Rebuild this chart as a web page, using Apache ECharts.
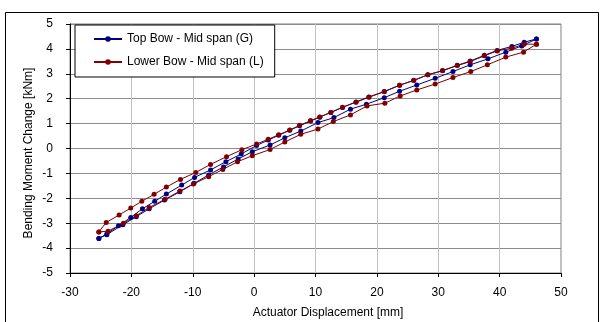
<!DOCTYPE html>
<html>
<head>
<meta charset="utf-8">
<script src="https://cdn.jsdelivr.net/npm/echarts@6/dist/echarts.min.js"></script>
<style>
html,body{margin:0;padding:0;background:#fff;}
#chart{width:600px;height:322px;}
</style>
</head>
<body>
<div id="chart"></div>
<script>
var chartTitle = 'Mid span bending moment change';
var xAxisName = 'Actuator Displacement [mm]';
var yAxisName = 'Bending Moment Change [kNm]';
var seriesNames = ['Top Bow - Mid span (G)', 'Lower Bow - Mid span (L)'];

// Top Bow (blue) - loading branch
var blueLoadX = [-25.3,-24.0,-21.4,-19.2,-17.1,-14.6,-12.1,-9.8,-7.4,-5.0,-2.6,-0.3,2.6,5.0,7.6,10.4,13.0,15.7,18.3,21.2,23.7,26.5,29.5,32.4,35.2,38.1,41.0,43.6,46.0];
var blueLoadY = [-3.61,-3.46,-3.06,-2.74,-2.42,-2.07,-1.74,-1.40,-1.06,-0.74,-0.42,-0.13,0.14,0.43,0.70,1.04,1.24,1.58,1.78,2.04,2.30,2.55,2.82,3.09,3.36,3.60,3.87,4.12,4.40];
// Top Bow (blue) - unloading branch
var blueUnloadX = [46.0,44.0,42.0,39.6,37.5,35.2,33.1,30.7,28.3,26.0,23.7,21.2,18.7,16.6,14.4,12.5,10.7,9.2,7.4,5.8,4.0,2.3,0.4,-2.1,-4.6,-7.1,-9.7,-11.8,-14.3,-16.2,-18.2,-20.1,-22.1,-24.0,-25.3];
var blueUnloadY = [4.40,4.27,4.10,3.94,3.74,3.51,3.34,3.13,2.96,2.74,2.54,2.29,2.07,1.87,1.65,1.45,1.26,1.10,0.91,0.73,0.53,0.34,0.12,-0.22,-0.53,-0.86,-1.16,-1.47,-1.83,-2.12,-2.42,-2.77,-3.10,-3.43,-3.61];

// Lower Bow (red) - loading branch
var redLoadX = [-25.3,-23.8,-21.3,-19.2,-17.1,-14.5,-12.1,-9.9,-7.4,-5.1,-2.7,-0.3,2.6,5.0,7.6,10.4,12.9,15.7,18.4,21.3,23.8,26.5,29.5,32.4,35.3,38.0,41.0,43.9,46.0];
var redLoadY = [-3.35,-3.32,-3.00,-2.70,-2.37,-2.04,-1.71,-1.43,-1.13,-0.84,-0.53,-0.29,-0.04,0.26,0.57,0.78,1.08,1.35,1.71,1.82,2.11,2.35,2.59,2.85,3.09,3.36,3.67,3.87,4.19];
// Lower Bow (red) - unloading branch
var redUnloadX = [46.0,44.0,42.0,39.6,37.5,35.2,33.1,30.7,28.3,26.0,23.7,21.2,18.7,16.6,14.4,12.5,10.7,9.2,7.4,5.8,4.0,2.3,0.4,-2.0,-4.5,-7.1,-9.5,-12.0,-14.3,-16.3,-18.3,-20.1,-22.0,-24.1,-25.3];
var redUnloadY = [4.19,4.19,4.03,3.92,3.72,3.49,3.33,3.12,2.96,2.73,2.54,2.28,2.06,1.86,1.66,1.45,1.27,1.12,0.93,0.74,0.55,0.37,0.18,-0.05,-0.33,-0.64,-0.96,-1.24,-1.55,-1.84,-2.12,-2.39,-2.67,-2.97,-3.35];

var xTicks = {min:-30, max:50, interval:10};
var yTicks = {min:-5, max:5, interval:1};

function pairs(xs, ys){ return xs.map(function(x,i){ return [x, ys[i]]; }); }
var blueData = pairs(blueLoadX, blueLoadY).concat(pairs(blueUnloadX, blueUnloadY));
var redData = pairs(redLoadX, redLoadY).concat(pairs(redUnloadX, redUnloadY));

var FONT = '"Liberation Sans", Arial, sans-serif';
var chart = echarts.init(document.getElementById('chart'), null, {renderer:'canvas'});
chart.setOption({
  animation:false,
  backgroundColor:'#fff',
  textStyle:{fontFamily:FONT},
  title:{
    text:chartTitle, left:'center', top:-16, padding:0,
    textStyle:{fontFamily:FONT, fontSize:16, fontWeight:'bold', color:'#000'}
  },
  grid:{left:70, right:39, top:24, bottom:49, show:true, borderColor:'#808080', borderWidth:1, backgroundColor:'#fff'},
  legend:{
    orient:'vertical', left:75, top:25,
    padding:[8,11,9,18], itemGap:11, itemWidth:28, itemHeight:7,
    borderColor:'#000', borderWidth:1, backgroundColor:'#fff',
    textStyle:{fontFamily:FONT, fontSize:12, color:'#000'},
    data:seriesNames
  },
  xAxis:{
    type:'value', min:xTicks.min, max:xTicks.max, interval:xTicks.interval,
    axisLine:{show:true, onZero:false, lineStyle:{color:'#000', width:1}},
    axisTick:{show:true, length:4, lineStyle:{color:'#000'}},
    axisLabel:{color:'#000', fontSize:12, fontFamily:FONT, margin:14},
    splitLine:{show:true, lineStyle:{color:'#c0c0c0', width:1}}
  },
  yAxis:{
    type:'value', min:yTicks.min, max:yTicks.max, interval:yTicks.interval,
    axisLine:{show:true, onZero:false, lineStyle:{color:'#000', width:1}},
    axisTick:{show:true, length:4, lineStyle:{color:'#000'}},
    axisLabel:{color:'#000', fontSize:12, fontFamily:FONT, margin:17},
    splitLine:{show:true, lineStyle:{color:'#8c8c8c', width:1}}
  },
  graphic:[
    {type:'rect', shape:{x:5.5, y:12.5, width:593, height:320}, style:{fill:null, stroke:'#000', lineWidth:1}, silent:true, z:-1},
    {type:'text', x:328, y:313, style:{text:xAxisName, fontFamily:FONT, fontSize:12, fill:'#000', textAlign:'center', textVerticalAlign:'middle'}},
    {type:'text', x:29, y:153, rotation:Math.PI/2, style:{text:yAxisName, fontFamily:FONT, fontSize:12, fill:'#000', textAlign:'center', textVerticalAlign:'middle'}}
  ],
  series:[
    {name:seriesNames[0], type:'line', data:blueData, symbol:'circle', symbolSize:5, showSymbol:true,
     itemStyle:{color:'#000080'}, lineStyle:{color:'#000080', width:1}},
    {name:seriesNames[1], type:'line', data:redData, symbol:'circle', symbolSize:5, showSymbol:true,
     itemStyle:{color:'#800000'}, lineStyle:{color:'#800000', width:1}}
  ]
});
</script>
</body>
</html>
